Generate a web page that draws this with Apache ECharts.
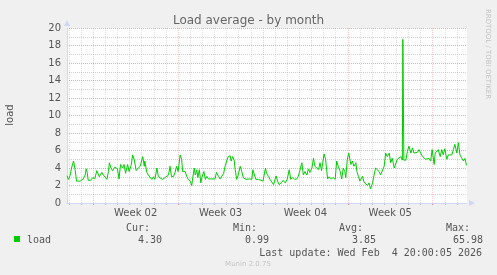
<!DOCTYPE html>
<html><head><meta charset="utf-8">
<script src="https://cdn.jsdelivr.net/npm/echarts@6/dist/echarts.min.js"></script>
<style>html,body{margin:0;padding:0;background:#f0f0f0;}#c{width:497px;height:275px;}</style>
</head><body><div id="c"></div>
<script>
// ---- data (x = hours since Fri Jan 2 20:00, 2026; window = 33 days) ----
const chartTitle = 'Load average - by month';
const yName = 'load';
const hours = [0,3,6,9,13,16,19,26,29,32,36,38,40,42,47,51,55,59,62,64,69,72,75,79,82,84,87,90,95,100,103,106,110,113,116,120,123,127,130,133,137,141,145,148,150,153,154,158,161,164,168,171,174,178,181,184,189,194,197,201,204,207,211,214,217,220,224,227,229,234,237,240,244,247,249,252,254,257,259,262,265,267,271,274,277,280,283,289,293,296,300,303,306,310,313,316,319,323,325,328,331,333,336,339,343,346,349,354,361,366,368,371,374,379,384,388,391,393,395,399,402,405,409,412,414,417,420,424,428,432,436,440,443,447,451,455,458,461,465,468,471,475,478,481,485,488,491,494,498,501,504,509,512,516,519,523,527,531,534,537,541,544,547,550,552,555,558,562,565,568,572,574,577,580,585,588,591,595,598,601,605,608,611,614,618,621,624,628,631,634,638,641,644,648,651,654,657,661,664,665,667,671,674,677,681,684,687,690,694,697,700,704,707,710,713,717,720,723,727,729,732,735,739,742,745,748,752,755,758,762,765,768,772,775,778,782,785,788,791];
const load = [3.1,2.7,3.1,4.0,4.8,3.8,2.5,2.5,2.7,2.75,3.2,3.9,3.5,2.6,2.6,2.9,2.75,3.7,3.8,3.0,3.5,3.2,3.35,2.7,3.6,4.6,4.0,3.7,4.1,3.9,2.75,4.4,4.0,4.4,3.4,4.4,3.6,4.3,5.5,5.0,3.7,4.0,4.2,4.3,5.3,4.2,4.8,3.5,3.2,3.1,2.7,3.0,2.7,4.0,3.0,2.8,2.7,2.9,2.75,3.2,4.2,3.0,3.05,3.5,4.2,3.6,5.5,5.0,3.6,3.6,3.05,2.7,2.5,2.0,2.9,4.0,3.2,3.8,2.9,3.8,2.3,2.9,3.6,2.7,3.05,2.75,2.7,2.75,2.75,3.5,3.05,2.75,2.7,3.35,4.2,4.4,5.3,5.4,4.8,5.3,4.9,3.8,2.7,3.2,4.2,3.6,2.9,2.7,2.75,2.7,3.8,3.6,2.7,2.7,2.6,2.5,2.7,4.0,3.4,3.05,2.7,2.9,2.1,2.3,3.1,2.5,2.1,2.3,2.6,2.3,2.7,3.8,2.7,2.9,2.7,2.75,3.05,3.7,4.6,3.2,3.6,3.2,3.9,3.5,4.0,5.1,4.2,4.4,3.8,4.6,3.7,5.6,5.0,2.75,3.0,2.75,2.9,2.7,4.8,4.2,3.6,2.75,4.0,3.6,2.9,5.0,5.7,4.4,4.8,4.2,4.6,3.6,3.05,2.5,3.05,2.4,2.5,2.0,2.3,1.6,2.3,3.2,4.0,3.8,3.6,3.2,3.1,4.2,5.7,5.3,5.7,4.6,5.1,4.0,4.2,5.0,4.8,5.3,4.9,18.7,4.9,4.9,5.9,6.5,5.7,6.3,5.7,5.9,5.8,6.1,6.2,5.3,5.5,5.0,5.0,5.1,4.8,6.1,4.4,5.7,5.5,6.1,5.3,6.1,5.5,6.2,5.0,5.5,5.7,5.5,6.1,6.7,5.7,6.9,5.5,5.1,4.8,5.1,4.3];
const weekStarts = [52,220,388,556,724];       // Monday 00:00 boundaries
const weekLabelPos = [136,304,472,640];        // mid-week label positions
const weekLabels = ['Week 02','Week 03','Week 04','Week 05'];
const firstMidnight = 4, windowHours = 792;
const statNames = ['Cur:','Min:','Avg:','Max:'];
const statValues = ['4.30','0.99','3.85','65.98'];
const seriesName = 'load';
const lastUpdate = 'Last update: Wed Feb  4 20:00:05 2026';
const footer = 'Munin 2.0.75';
const sideText = 'RRDTOOL / TOBI OETIKER';

// ---- build ----
const dayLines = [];
for (let h = firstMidnight; h < windowHours; h += 24) if (weekStarts.indexOf(h) < 0) dayLines.push(h);
const minorStyle = {color:'rgba(150,150,150,0.45)', width:1, type:[1,1]};
const majorStyle = {color:'rgba(230,100,100,0.55)', width:1, type:[1,1]};
const minorVStyle = {color:'rgba(150,150,150,0.3)', width:1, type:[1,1]};
const majorVStyle = {color:'rgba(230,100,100,0.35)', width:1, type:[1,1]};
const txt = '#555';
const mono = 'DejaVu Sans Mono';
const statRight = [150,257,363,470];
const valRight = [162,269,376,483];
const plotH = 175;

const graphic = [
  {type:'text', x:10, y:115, rotation:Math.PI/2, style:{text:yName, font:'10px "DejaVu Sans"', fill:txt, align:'center', verticalAlign:'middle'}},
  {type:'text', x:488, y:54, rotation:-Math.PI/2, style:{text:sideText, font:'7px "DejaVu Sans"', fill:'#c4c4c4', align:'center', verticalAlign:'middle'}},
  {type:'rect', shape:{x:14,y:236,width:6,height:6}, style:{fill:'#00cc00'}},
  {type:'text', x:27, y:240, style:{text:seriesName, font:'10px "'+mono+'"', fill:txt, align:'left', verticalAlign:'middle'}},
  {type:'text', x:482, y:253, style:{text:lastUpdate, font:'10px "'+mono+'"', fill:txt, align:'right', verticalAlign:'middle'}},
  {type:'text', x:248, y:264, style:{text:footer, font:'7px "DejaVu Sans"', fill:'#c4c4c4', align:'center', verticalAlign:'middle'}}
];
statNames.forEach((s,i)=>{
  graphic.push({type:'text', x:statRight[i], y:228, style:{text:s, font:'10px "'+mono+'"', fill:txt, align:'right', verticalAlign:'middle'}});
  graphic.push({type:'text', x:valRight[i], y:240, style:{text:statValues[i], font:'10px "'+mono+'"', fill:txt, align:'right', verticalAlign:'middle'}});
});

function gridAxis(vals, style, inside, len) {
  return {type:'value', min:0, max:windowHours, position:'bottom',
    axisLine:{show:false}, axisLabel:{show:false}, splitLine:{show:false},
    axisTick:{show:true, customValues:vals, inside:inside, length:len, lineStyle:style}};
}

const chart = echarts.init(document.getElementById('c'), null, {renderer:'canvas'});
chart.setOption({
  animation:false,
  backgroundColor:'#f0f0f0',
  title:{text:chartTitle, left:'center', top:10, textStyle:{fontFamily:'DejaVu Sans', fontSize:12, fontWeight:'normal', color:'#666'}},
  grid:{left:67, right:30, top:28, bottom:72, show:true, backgroundColor:'#ffffff', borderWidth:0},
  xAxis:[{
    type:'value', min:0, max:windowHours,
    axisLine:{show:true, lineStyle:{color:'#cfd6f8', width:1}, symbol:['none','triangle'], symbolSize:[6,6], symbolOffset:[0,5]},
    axisTick:{show:false},
    axisLabel:{show:true, customValues:weekLabelPos, formatter:(v)=>weekLabels[weekLabelPos.indexOf(v)], color:txt, fontFamily:'DejaVu Sans', fontSize:10, margin:5},
    splitLine:{show:false}, z:5
  },
  gridAxis(dayLines, minorVStyle, true, plotH),
  gridAxis(weekStarts, majorVStyle, true, plotH),
  gridAxis(dayLines, {color:'rgba(150,150,150,0.6)'}, false, 2),
  gridAxis(weekStarts, {color:'rgba(230,100,100,0.8)'}, false, 2)
  ],
  yAxis:{
    type:'value', min:0, max:20, interval:2,
    axisLine:{show:true, lineStyle:{color:'#cfd6f8', width:1}, symbol:['none','triangle'], symbolSize:[6,6], symbolOffset:[0,5]},
    axisTick:{show:false},
    axisLabel:{color:txt, fontFamily:'DejaVu Sans', fontSize:10, margin:6},
    splitLine:{show:true, lineStyle:majorStyle},
    minorTick:{show:false, splitNumber:2},
    minorSplitLine:{show:true, lineStyle:minorStyle}
  },
  graphic:graphic,
  series:[{
    name:seriesName, type:'line', z:3, symbol:'none', showSymbol:false,
    lineStyle:{color:'#00cc00', width:1}, itemStyle:{color:'#00cc00'},
    data: hours.map((h,i)=>[h, load[i]])
  }]
});
</script></body></html>
